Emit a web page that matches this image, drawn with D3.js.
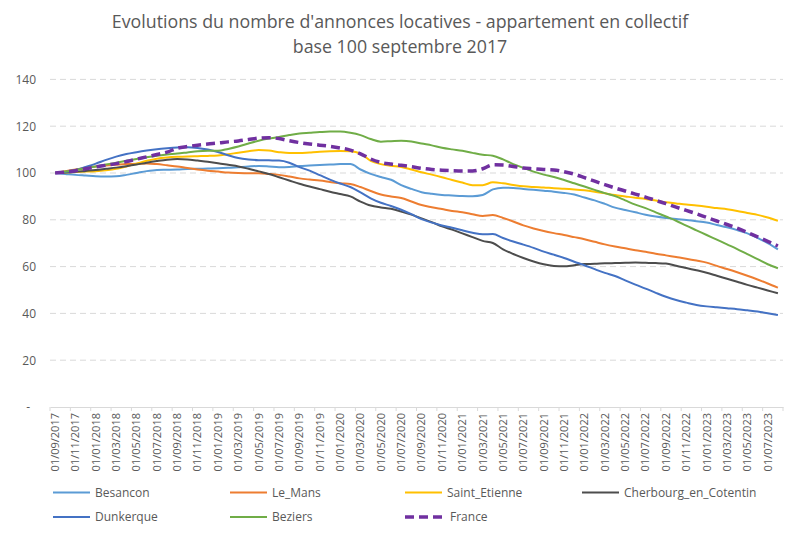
<!DOCTYPE html>
<html><head><meta charset="utf-8">
<script src="https://cdn.jsdelivr.net/npm/d3@7/dist/d3.min.js"></script>
<style>
html,body{margin:0;padding:0;background:#fff;}
svg{display:block;}
text{font-family:"Open Sans",sans-serif;fill:#595959;}
</style></head>
<body>
<svg id="chart" width="800" height="537"></svg>
<script>
const titleLines = ["Evolutions du nombre d'annonces locatives - appartement en collectif", "base 100 septembre 2017"];

const months = ["01/09/2017","01/10/2017","01/11/2017","01/12/2017",
"01/01/2018","01/02/2018","01/03/2018","01/04/2018","01/05/2018","01/06/2018","01/07/2018","01/08/2018","01/09/2018","01/10/2018","01/11/2018","01/12/2018",
"01/01/2019","01/02/2019","01/03/2019","01/04/2019","01/05/2019","01/06/2019","01/07/2019","01/08/2019","01/09/2019","01/10/2019","01/11/2019","01/12/2019",
"01/01/2020","01/02/2020","01/03/2020","01/04/2020","01/05/2020","01/06/2020","01/07/2020","01/08/2020","01/09/2020","01/10/2020","01/11/2020","01/12/2020",
"01/01/2021","01/02/2021","01/03/2021","01/04/2021","01/05/2021","01/06/2021","01/07/2021","01/08/2021","01/09/2021","01/10/2021","01/11/2021","01/12/2021",
"01/01/2022","01/02/2022","01/03/2022","01/04/2022","01/05/2022","01/06/2022","01/07/2022","01/08/2022","01/09/2022","01/10/2022","01/11/2022","01/12/2022",
"01/01/2023","01/02/2023","01/03/2023","01/04/2023","01/05/2023","01/06/2023","01/07/2023","01/08/2023"];

const besancon = [100,99.6,99.2,98.9,98.6,98.5,98.6,99.2,100,100.8,101.3,101.4,101.5,101.7,101.8,101.9,
102,102.2,102.5,102.8,103,102.8,102.5,102.6,103,103.2,103.4,103.6,
103.8,103.8,101.5,99.6,98.3,97.1,94.8,93.2,91.8,91.1,90.6,90.4,
90.2,90.1,90.6,93,93.7,93.6,93.2,92.8,92.4,92,91.5,90.8,
89.5,88.3,86.8,85.2,84.2,83.2,82.2,81.4,80.8,80.3,79.9,79.4,
78.8,77.8,76.8,75.6,74.2,72.3,70,67.4];

const leMans = [100,100.8,101.5,102.2,102.8,103.2,103.5,103.8,104,104.1,103.8,103.3,102.8,102.1,101.5,101,
100.6,100.2,100,99.9,99.9,99.6,99.2,98.5,97.7,97.2,96.8,96.2,
95.6,95.3,94,92.3,90.8,90,89.3,87.8,86.3,85.4,84.6,83.8,
83.2,82.4,81.6,82,80.8,79.3,77.6,76.3,75.2,74.3,73.5,72.6,
71.7,70.6,69.5,68.6,67.8,67,66.3,65.5,64.8,64.1,63.4,62.6,
61.7,60.3,59,57.6,56.1,54.5,52.8,51];

const saintEtienne = [100,100.2,100.4,100.6,100.8,101.2,101.8,102.8,104,105.2,106.1,106.6,106.9,107.1,107.2,107.3,
107.5,108,108.7,109.3,109.8,109.6,108.9,108.5,108.5,108.8,109.1,109.3,
109.4,109.3,108.3,105.2,103.8,103.1,102.6,101.5,100.3,99.3,98.2,97,
95.9,94.8,94.8,96,95.6,94.9,94.3,94,93.8,93.5,93.3,93,
92.6,92,91.3,90.6,90,89.4,88.9,88.2,87.5,87,86.5,86.1,
85.6,85,84.5,83.8,82.9,82.1,81,79.6];

const cherbourg = [100,100.2,100.5,100.9,101.3,101.8,102.3,102.9,103.6,104.4,105.1,105.7,106,105.8,105.3,104.8,
104.2,103.5,102.8,101.8,100.7,99.6,98.2,96.8,95.4,94.2,93.1,92,
91,90,87.8,86.1,85.3,84.7,83.5,82.2,80.6,79,77.2,75.8,
74.2,72.6,71,70.1,67.4,65.4,63.7,62.2,61,60.3,60.1,60.6,
61.1,61.2,61.4,61.5,61.6,61.7,61.6,61.5,61.3,60.4,59.4,58.4,
57.4,56.1,54.8,53.5,52.2,51,49.8,48.6];

const dunkerque = [100,100.4,101.3,102.6,104,105.6,107,108.1,108.9,109.6,110.2,110.6,110.9,111,110.7,110,
109,107.6,106.4,105.8,105.5,105.4,105.3,104.4,102.5,101,99.1,97.2,
95.5,94,91.7,89.2,87.3,85.9,84.3,82.4,80.3,78.8,77.6,76.6,
75.5,74.5,73.8,73.9,72.2,70.7,69.4,68,66.4,65.1,63.7,62.1,
60.6,58.9,57.3,56,54.1,52.3,50.6,48.8,47.1,45.7,44.6,43.6,
43,42.6,42.2,41.8,41.3,40.8,40.1,39.3];

const beziers = [100,100.6,101.3,102,102.8,103.6,104.4,105.2,106,106.7,107.4,107.9,108.3,108.8,109.3,109.5,
109.5,110.3,111.3,112.6,113.8,114.7,115.4,116.2,116.9,117.2,117.5,117.7,
117.7,117.2,116.2,114.5,113.4,113.6,113.8,113.5,112.6,111.8,110.8,110.1,
109.5,108.6,107.8,107.4,105.8,103.8,102.2,100.6,99.3,98.3,97,95.6,
94.2,92.8,91.4,90.1,88.3,86.5,85,83.2,81.4,79.6,77.5,75.5,
73.5,71.5,69.5,67.5,65.3,63.2,61,59.3];

const france = [100,100.4,101,101.8,102.6,103.3,104,104.9,105.9,106.9,107.9,108.9,110.6,111.3,111.9,112.4,
112.8,113.3,113.7,114.3,114.9,115.1,114.7,113.8,113,112.4,111.9,111.4,
110.7,109.8,108.2,106,104.5,103.8,103.3,102.7,102,101.5,101.2,101,
100.9,100.9,101.8,103.5,103.4,102.8,102.1,101.8,101.5,101.3,100.5,99.5,
98,96.5,95,93.6,92.3,91,89.7,88.3,86.9,85.4,84,82.6,
81,79.5,78,76.4,74.6,72.7,70.8,68.8];

const seriesNames = ["Besancon","Le_Mans","Saint_Etienne","Cherbourg_en_Cotentin","Dunkerque","Beziers","France"];
const seriesValues = [besancon, leMans, saintEtienne, cherbourg, dunkerque, beziers, france];
const seriesColors = ["#5B9BD5","#ED7D31","#FFC000","#4D4D4D","#4472C4","#70AD47","#7030A0"];
const yTicks = [0,20,40,60,80,100,120,140];

const svg = d3.select("#chart");
const W = 800, H = 537;
const plot = {left: 50, right: 783, top: 79.4, bottom: 407};

const x = d3.scaleBand().domain(months).range([plot.left, plot.right]).padding(0);
const y = d3.scaleLinear().domain([0, 140]).range([plot.bottom, plot.top]);
const cx = d => x(d) + x.bandwidth() / 2;

// Title
svg.append("g").selectAll("text").data(titleLines).join("text")
  .attr("x", W / 2).attr("y", (d, i) => 28 + i * 25)
  .attr("text-anchor", "middle")
  .style("font-size", "17.8px")
  .text(d => d);

// Gridlines
svg.append("g").selectAll("line").data(yTicks.filter(t => t > 0)).join("line")
  .attr("x1", plot.left).attr("x2", plot.right)
  .attr("y1", d => y(d)).attr("y2", d => y(d))
  .attr("stroke", "#d9d9d9").attr("stroke-width", 1)
  .attr("stroke-dasharray", "6,4");

// Y axis labels
const yAxis = d3.axisLeft(y).tickValues(yTicks).tickSize(0).tickPadding(14)
  .tickFormat(d => d === 0 ? "-" : d);
const yg = svg.append("g").attr("transform", `translate(${plot.left},0)`).call(yAxis);
yg.select(".domain").remove();
yg.selectAll("text").style("font-size", "12px").style("font-family", "'Open Sans',sans-serif").attr("fill", "#595959");
yg.selectAll(".tick").filter(d => d === 0).select("text").attr("dx", "-6");

// X axis
const xAxis = d3.axisBottom(x).tickValues(months.filter((m, i) => i % 2 === 0)).tickSize(0).tickPadding(0);
const xg = svg.append("g").attr("transform", `translate(0,${plot.bottom})`).call(xAxis);
xg.select(".domain").attr("stroke", "#d9d9d9");
xg.selectAll(".tick text")
  .attr("transform", "rotate(-90)")
  .attr("text-anchor", "end")
  .attr("x", -6).attr("y", 0).attr("dy", "0.35em")
  .style("font-size", "11px").style("font-family", "'Open Sans',sans-serif").attr("fill", "#595959");
xg.selectAll(".bnd").data(months.filter((m, i) => i % 2 === 0)).join("line")
  .attr("class", "bnd")
  .attr("x1", d => x(d)).attr("x2", d => x(d)).attr("y1", 0).attr("y2", 4)
  .attr("stroke", "#d9d9d9");
xg.append("line").attr("x1", plot.right).attr("x2", plot.right).attr("y1", 0).attr("y2", 4).attr("stroke", "#d9d9d9");

// Lines
const line = d3.line().x((d, i) => cx(months[i])).y(d => y(d)).curve(d3.curveMonotoneX);
svg.append("g").selectAll("path").data(seriesValues).join("path")
  .attr("d", d => line(d))
  .attr("fill", "none")
  .attr("stroke", (d, i) => seriesColors[i])
  .attr("stroke-width", (d, i) => i === 6 ? 3.5 : 2)
  .attr("stroke-dasharray", (d, i) => i === 6 ? "9,5" : null)
  .attr("stroke-linejoin", "round");

// Legend
const legX = [53, 230, 405, 582];
const legY = [492.5, 517];
const leg = svg.append("g").selectAll("g").data(seriesNames).join("g")
  .attr("transform", (d, i) => `translate(${legX[i % 4]},${legY[Math.floor(i / 4)]})`);
leg.append("line").attr("x1", 0).attr("x2", 37).attr("y1", 0).attr("y2", 0)
  .attr("stroke", (d, i) => seriesColors[i])
  .attr("stroke-width", (d, i) => i === 6 ? 3.5 : 2)
  .attr("stroke-dasharray", (d, i) => i === 6 ? "9,5" : null);
leg.append("text").attr("x", (d, i) => i === 6 ? 45 : 42).attr("y", 0).attr("dy", "0.35em")
  .style("font-size", "12px").text(d => d);
</script>
</body></html>
